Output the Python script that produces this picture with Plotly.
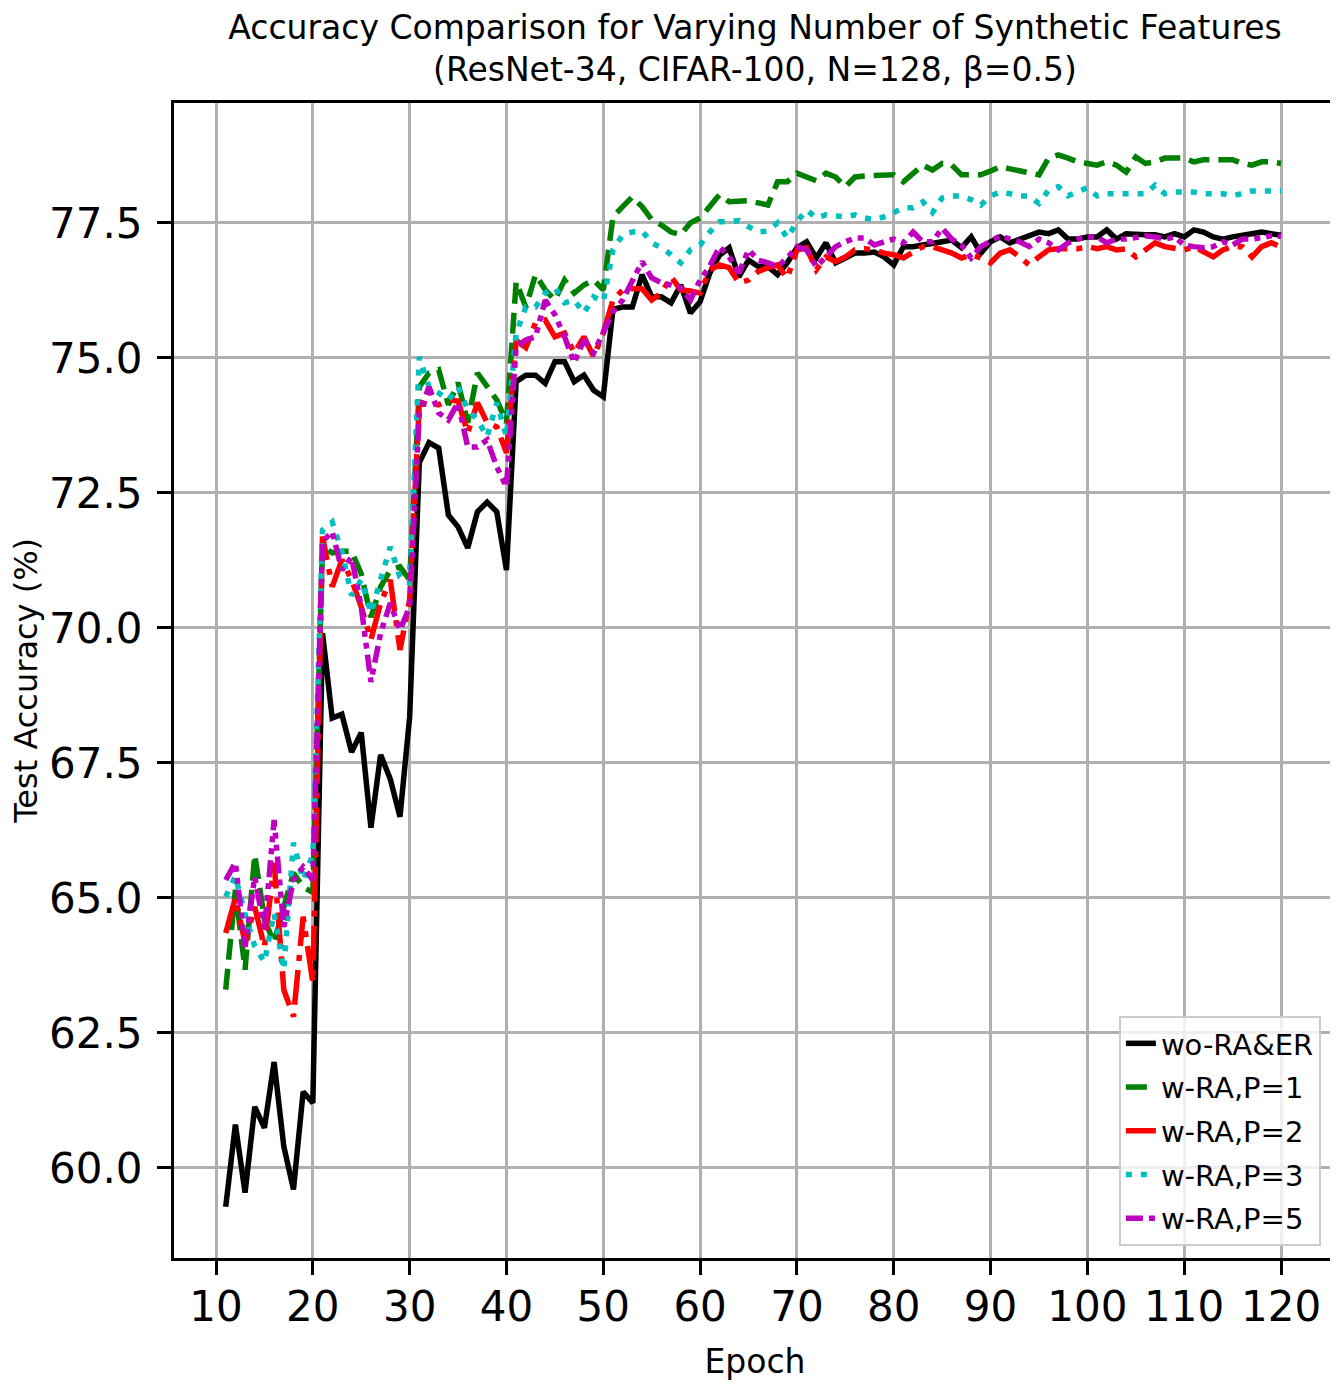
import plotly.graph_objects as go

epochs = list(range(11, 121))

wo_ra_er = [59.28, 60.8, 59.54, 61.13, 60.74, 61.96, 60.4, 59.6, 61.41, 61.2,
            69.9, 68.33, 68.4, 67.7, 68.06, 66.3, 67.65, 67.2, 66.5, 68.35,
            73.06, 73.43, 73.33, 72.09, 71.87, 71.48, 72.15, 72.33, 72.15, 71.07,
            74.56, 74.68, 74.68, 74.53, 74.93, 74.93, 74.56, 74.68, 74.4, 74.28,
            75.9, 75.94, 75.94, 76.54, 76.13, 76.13, 76.02, 76.35, 75.83, 76.04,
            76.57, 76.9, 77.04, 76.5, 76.81, 76.69, 76.69, 76.54, 76.76, 77.04,
            77.15, 76.85, 77.13, 76.76, 76.85, 76.94, 76.94, 76.96, 76.87, 76.72,
            77.06, 77.06, 77.09, 77.13, 77.15, 77.18, 77.04, 77.24, 76.94, 77.15,
            77.24, 77.13, 77.2, 77.28, 77.33, 77.3, 77.37, 77.2, 77.2, 77.24,
            77.24, 77.37, 77.2, 77.3, 77.28, 77.28, 77.28, 77.24, 77.3, 77.24,
            77.37, 77.33, 77.24, 77.2, 77.24, 77.28, 77.3, 77.33, 77.3, 77.27]

p1 = [63.3, 65.15, 63.67, 65.8, 64.6, 64.17, 64.83, 65.46, 65.2, 65.1,
      71.5, 71.39, 71.42, 71.42, 71.0, 70.2, 70.76, 71.07, 71.13, 70.89,
      74.46, 74.72, 74.78, 74.13, 74.54, 73.8, 74.72, 74.46, 74.22, 73.8,
      76.41, 75.94, 76.54, 76.26, 76.07, 76.44, 76.2, 76.35, 76.44, 76.26,
      77.61, 77.8, 77.98, 77.8, 77.56, 77.46, 77.33, 77.28, 77.5, 77.59,
      77.8, 78.02, 77.89, 77.89, 77.91, 77.87, 77.83, 78.26, 78.26, 78.42,
      78.35, 78.28, 78.42, 78.35, 78.17, 78.35, 78.37, 78.37, 78.39, 78.39,
      78.26, 78.41, 78.57, 78.48, 78.6, 78.57, 78.39, 78.39, 78.39, 78.46,
      78.54, 78.5, 78.46, 78.44, 78.39, 78.7, 78.76, 78.7, 78.63, 78.6,
      78.57, 78.63, 78.57, 78.44, 78.72, 78.6, 78.63, 78.7, 78.7, 78.7,
      78.63, 78.67, 78.67, 78.67, 78.67, 78.6, 78.57, 78.63, 78.63, 78.6]

p2 = [64.35, 65.0, 64.17, 64.83, 64.09, 65.65, 63.3, 62.8, 64.65, 63.43,
      71.69, 70.76, 71.26, 70.89, 70.39, 69.78, 70.46, 70.89, 69.59, 70.52,
      74.17, 74.13, 74.13, 74.22, 74.2, 73.61, 74.17, 73.8, 73.72, 73.24,
      75.33, 75.19, 75.65, 75.7, 75.39, 75.46, 75.09, 75.39, 75.02, 75.46,
      76.07, 76.26, 76.28, 76.28, 76.07, 76.2, 76.5, 76.26, 76.24, 76.2,
      76.63, 76.72, 76.67, 76.39, 76.44, 76.6, 76.67, 76.72, 76.48, 77.0,
      77.04, 76.63, 76.87, 76.78, 76.87, 77.0, 77.02, 77.0, 76.94, 76.91,
      76.85, 76.96, 77.06, 77.06, 77.0, 76.94, 76.85, 76.91, 76.85, 76.76,
      76.94, 77.0, 76.87, 76.72, 76.87, 77.0, 77.02, 77.02, 77.02, 77.06,
      77.02, 77.06, 77.0, 77.02, 76.87, 77.0, 77.13, 77.06, 77.02, 77.0,
      77.06, 76.96, 76.87, 77.0, 77.06, 77.06, 76.87, 77.06, 77.13, 77.05]

p3 = [65.02, 65.4, 64.69, 64.1, 63.81, 64.72, 63.67, 66.02, 65.33, 65.8,
      71.81, 71.96, 71.41, 70.6, 70.89, 70.28, 70.89, 71.5, 70.94, 70.83,
      75.02, 74.46, 74.35, 74.22, 74.46, 74.04, 73.85, 73.54, 74.17, 73.54,
      75.46, 75.94, 75.94, 76.2, 76.3, 76.02, 76.07, 75.83, 76.13, 76.04,
      77.0, 77.28, 77.33, 77.35, 77.13, 77.04, 76.91, 76.76, 77.0, 77.09,
      77.33, 77.52, 77.52, 77.54, 77.43, 77.33, 77.35, 77.5, 77.22, 77.52,
      77.74, 77.59, 77.65, 77.63, 77.61, 77.65, 77.59, 77.56, 77.61, 77.69,
      77.78, 77.78, 77.89, 77.69, 77.96, 78.0, 78.0, 77.93, 77.83, 78.0,
      78.07, 78.04, 78.0, 78.0, 77.86, 78.11, 78.17, 78.0, 78.07, 78.15,
      78.0, 78.04, 78.04, 78.04, 78.04, 78.04, 78.2, 78.04, 78.07, 78.07,
      78.07, 78.04, 78.04, 78.04, 78.0, 78.04, 78.09, 78.09, 78.09, 78.09]

p5 = [65.33, 65.65, 64.09, 65.39, 64.41, 66.44, 64.46, 65.33, 65.57, 65.33,
      71.6, 71.78, 71.07, 71.31, 70.39, 69.0, 69.9, 70.46, 69.96, 70.39,
      73.98, 74.46, 73.98, 73.85, 74.17, 73.35, 73.35, 73.48, 72.98, 72.61,
      75.2, 75.33, 75.39, 76.07, 75.8, 75.39, 74.91, 75.33, 75.09, 75.46,
      75.85, 76.07, 76.44, 76.78, 76.48, 76.39, 76.35, 76.3, 76.07, 76.44,
      76.7, 77.06, 76.87, 76.57, 77.0, 76.81, 76.76, 76.69, 76.85, 77.06,
      77.0, 76.69, 76.87, 77.06, 77.15, 77.22, 77.22, 77.09, 77.15, 77.2,
      77.13, 77.33, 77.15, 77.15, 77.4, 77.2, 77.09, 76.85, 77.06, 77.17,
      77.26, 77.2, 77.15, 77.06, 77.2, 77.13, 77.0, 77.13, 77.2, 77.24,
      77.24, 77.13, 77.2, 77.2, 77.24, 77.26, 77.24, 77.2, 77.24, 77.09,
      77.06, 77.04, 77.06, 77.15, 77.09, 77.2, 77.2, 77.24, 77.26, 77.25]

x_ticks = list(range(10, 121, 10))
y_ticks = [60.0, 62.5, 65.0, 67.5, 70.0, 72.5, 75.0, 77.5]

series = [
    ("wo-RA&ER", wo_ra_er, "#000000", "solid"),
    ("w-RA,P=1", p1, "#008000", "21px,9px"),
    ("w-RA,P=2", p2, "#ff0000", "35px,9px,6px,9px"),
    ("w-RA,P=3", p3, "#00bfbf", "6px,9px"),
    ("w-RA,P=5", p5, "#bf00bf", "17px,6px,6px,6px,6px,6px"),
]

FONT = "DejaVu Sans"
fig = go.Figure()
for name, vals, color, dash in series:
    fig.add_trace(go.Scatter(x=epochs, y=vals, mode="lines", name=name, legendgroup=name,
                             line=dict(color=color, width=5.5, dash=dash)))

axis_common = dict(showline=True, mirror=True, linecolor="black", linewidth=3,
                   showgrid=True, gridcolor="#b0b0b0", gridwidth=3,
                   ticks="outside", ticklen=14, tickwidth=3, tickcolor="black",
                   zeroline=False, automargin=False,
                   tickfont=dict(family=FONT, size=42, color="black"))

# the page body adds an 8px offset; figure size/margins compensate for it
fig.update_layout(
    width=1330, height=1387,
    margin=dict(l=166, r=2, t=95, b=137),
    paper_bgcolor="white", plot_bgcolor="white",
    font=dict(family=FONT, color="black"),
    showlegend=True,
    title=dict(text="Accuracy Comparison for Varying Number of Synthetic Features<br>"
                    "(ResNet-34, CIFAR-100, N=128, β=0.5)",
               x=0.5, xref="paper", xanchor="center",
               y=0.978, yref="container", yanchor="middle",
               font=dict(family=FONT, size=33, color="black")),
    legend=dict(x=0.987, y=0.0104, xanchor="right", yanchor="bottom",
                traceorder="grouped", tracegroupgap=3,
                bgcolor="rgba(255,255,255,0.8)", bordercolor="#cccccc", borderwidth=2,
                font=dict(family=FONT, size=29, color="black")),
    annotations=[
        dict(text="Test Accuracy (%)", textangle=-90, xref="paper", yref="paper",
             x=-0.128, y=0.5, xanchor="center", yanchor="middle", showarrow=False,
             font=dict(family=FONT, size=32, color="black")),
    ],
)
fig.update_xaxes(range=[5.66, 125.68], tickvals=x_ticks, ticklabelstandoff=-4,
                 title=dict(text="Epoch", font=dict(family=FONT, size=33, color="black"), standoff=20),
                 **axis_common)
fig.update_yaxes(range=[58.33, 79.72], tickvals=y_ticks, tickformat=".1f", ticklabelstandoff=6,
                 **axis_common)

fig.write_html("out.html")
